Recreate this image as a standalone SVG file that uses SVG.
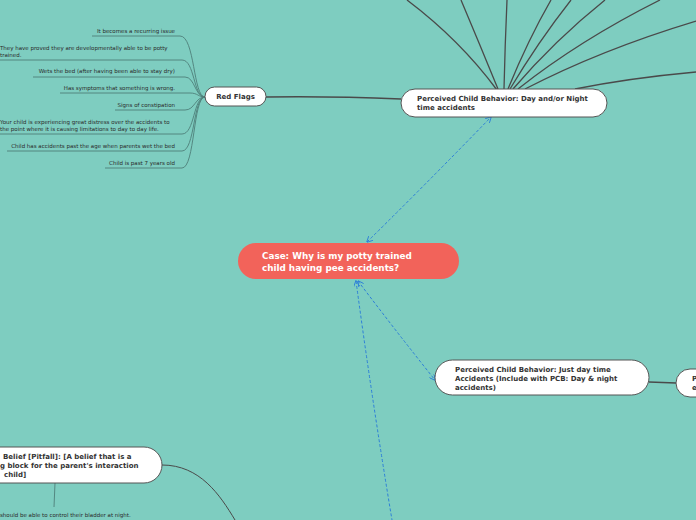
<svg xmlns="http://www.w3.org/2000/svg" width="696" height="520" viewBox="0 0 696 520">
<defs>
<style>
.bg{fill:#7ECDC0}
.node{fill:#ffffff;stroke:#555555;stroke-width:1}
.hd{font-family:"DejaVu Sans","Verdana",sans-serif;font-weight:bold;font-size:7px;fill:#333333}
.leaf{font-family:"DejaVu Sans","Verdana",sans-serif;font-size:5.5px;fill:#2a2a2a}
.lf{fill:none;stroke:#4E7F79;stroke-width:0.9}
.br{fill:none;stroke:#4a4a4a;stroke-width:1.3}
.dash{fill:none;stroke:#2D7FD8;stroke-width:1;stroke-dasharray:3,2}
.central{font-family:"DejaVu Sans","Verdana",sans-serif;font-weight:bold;font-size:8.8px;fill:#ffffff}
</style>
<marker id="arr" viewBox="0 0 10 10" refX="9" refY="5" markerWidth="6" markerHeight="6" orient="auto-start-reverse">
<path d="M0,0 L10,5 L0,10" fill="none" stroke="#2D7FD8" stroke-width="1.5"/>
</marker>
</defs>
<rect class="bg" x="0" y="0" width="696" height="520"/>

<g id="connectors">
<path class="br" d="M266,97 Q330,96 401,99"/>
<path class="br" d="M497,90 Q460,40 407,0"/>
<path class="br" d="M498,89 Q480,45 461,0"/>
<path class="br" d="M504,89 Q505,45 507,0"/>
<path class="br" d="M508,89 Q528,40 551,0"/>
<path class="br" d="M510,89 Q538,42 571,0"/>
<path class="br" d="M513,89 Q555,40 605,0"/>
<path class="br" d="M518,89 Q580,40 660,0"/>
<path class="br" d="M525,89 Q600,50 696,21"/>
<path class="br" d="M575,89 Q630,78 696,72"/>
<path class="br" d="M649,382 L676,383"/>
<path class="br" style="stroke-width:1" d="M162,465 C200,465 220,495 235,520"/>
<path class="lf" d="M55,483 L54,507"/>
<path class="dash" marker-start="url(#arr)" marker-end="url(#arr)" d="M367,242 Q430,180 491,117"/>
<path class="dash" marker-start="url(#arr)" marker-end="url(#arr)" d="M358,281 Q395,330 435,380"/>
<path class="dash" marker-start="url(#arr)" d="M356,281 Q372,400 392,520"/>
<g id="leaflines">
<path class="lf" d="M92,36 L180,36 C195,36 193,97 205,97"/>
<path class="lf" d="M0,60 L182,60 C195,60 193,97 205,97"/>
<path class="lf" d="M33,77 L185,77 C195,77 195,97 205,97"/>
<path class="lf" d="M60,93 L190,93 C198,93 198,97 205,97"/>
<path class="lf" d="M115,110 L185,110 C195,110 195,97 205,97"/>
<path class="lf" d="M0,134 L182,134 C195,134 193,97 205,97"/>
<path class="lf" d="M7,151 L182,151 C195,151 193,97 205,97"/>
<path class="lf" d="M105,168 L182,168 C195,168 193,97 205,97"/>
</g>
</g>

<g id="leaves">
<text class="leaf" x="175" y="33" text-anchor="end">It becomes a recurring issue</text>
<text class="leaf" x="0" y="50">They have proved they are developmentally able to be potty</text>
<text class="leaf" x="0" y="56.5">trained.</text>
<text class="leaf" x="175" y="73" text-anchor="end">Wets the bed (after having been able to stay dry)</text>
<text class="leaf" x="175" y="90" text-anchor="end">Has symptoms that something is wrong.</text>
<text class="leaf" x="175" y="107" text-anchor="end">Signs of constipation</text>
<text class="leaf" x="0" y="124">Your child is experiencing great distress over the accidents to</text>
<text class="leaf" x="0" y="131">the point where it is causing limitations to day to day life.</text>
<text class="leaf" x="175" y="148" text-anchor="end">Child has accidents past the age when parents wet the bed</text>
<text class="leaf" x="175" y="165" text-anchor="end">Child is past 7 years old</text>
<text class="leaf" x="0" y="517">should be able to control their bladder at night.</text>
</g>

<g id="red-flags">
<rect class="node" x="205" y="87" width="61" height="19" rx="9.5"/>
<text class="hd" x="235.5" y="99" text-anchor="middle">Red Flags</text>
</g>

<g id="pcb-day-night">
<rect class="node" x="401" y="89" width="206" height="28" rx="14"/>
<text class="hd" x="417" y="101">Perceived Child Behavior: Day and/or Night</text>
<text class="hd" x="417" y="110">time accidents</text>
</g>

<g id="central">
<rect x="238" y="243" width="221" height="36" rx="18" fill="#F2635A"/>
<text class="central" x="262" y="259">Case: Why is my potty trained</text>
<text class="central" x="262" y="271">child having pee accidents?</text>
</g>

<g id="pcb-day-time">
<rect class="node" x="435" y="360" width="214" height="35" rx="17.5"/>
<text class="hd" x="455" y="372">Perceived Child Behavior: Just day time</text>
<text class="hd" x="455" y="381">Accidents (Include with PCB: Day &amp; night</text>
<text class="hd" x="455" y="390">accidents)</text>
</g>

<g id="right-node">
<rect class="node" x="676" y="369" width="60" height="28" rx="14"/>
<text class="hd" x="692" y="381">P</text>
<text class="hd" x="692" y="390">e</text>
</g>

<g id="belief">
<rect class="node" x="-60" y="447" width="222" height="36" rx="18"/>
<text class="hd" x="3" y="459">Belief [Pitfall]: [A belief that is a</text>
<text class="hd" x="0" y="468">g block for the parent's interaction</text>
<text class="hd" x="4" y="477">child]</text>
</g>
</svg>
